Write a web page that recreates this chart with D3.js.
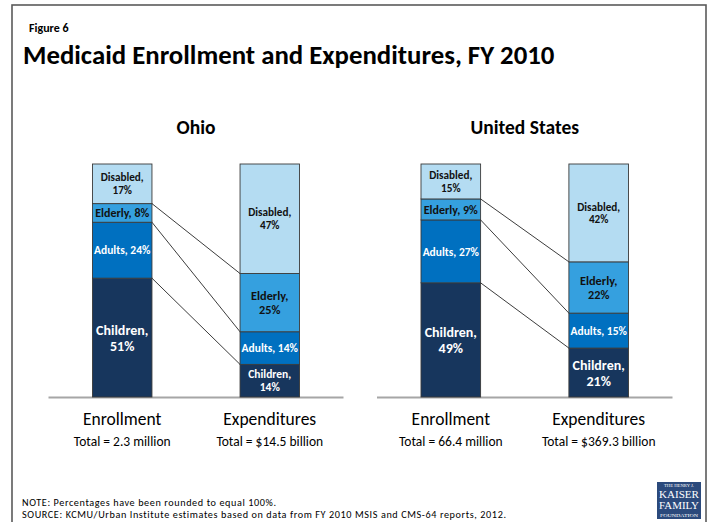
<!DOCTYPE html>
<html>
<head>
<meta charset="utf-8">
<script src="https://cdn.jsdelivr.net/npm/d3@7"></script>
<style>
  html, body { margin: 0; padding: 0; background: #fff; }
  svg { display: block; }
  text { font-family: Carlito, Lato, "Open Sans", sans-serif; }
</style>
</head>
<body>
<svg id="chart" width="714" height="522"></svg>
<script>
// Enrollment groups, listed from the bottom of each stack to the top
const groups = ["Children", "Adults", "Elderly", "Disabled"];
const measures = ["Enrollment", "Expenditures"];
const panelNames = ["Ohio", "United States"];

// Shares (%) by group, bottom to top
const ohioEnrollment = [51, 24, 8, 17];
const ohioExpenditures = [14, 14, 25, 47];
const usEnrollment = [49, 27, 9, 15];
const usExpenditures = [21, 15, 22, 42];

const ohioTotals = ["Total = 2.3 million", "Total = $14.5 billion"];
const usTotals = ["Total = 66.4 million", "Total = $369.3 billion"];

const panels = [
  { name: panelNames[0], values: [ohioEnrollment, ohioExpenditures], totals: ohioTotals, range: [92.5, 299.5] },
  { name: panelNames[1], values: [usEnrollment, usExpenditures], totals: usTotals, range: [421, 628.5] }
];

const colors = d3.scaleOrdinal()
  .domain(groups)
  .range(["#17365d", "#0070c0", "#35a0df", "#b4dcf2"]);
const darkText = new Set(["Elderly", "Disabled"]);

const svg = d3.select("#chart");
const y = d3.scaleLinear().domain([0, 100]).range([397, 164]);

// Frame
svg.append("rect")
  .attr("x", 12).attr("y", 5).attr("width", 694).attr("height", 540)
  .attr("fill", "none").attr("stroke", "#5a5a5a").attr("stroke-width", 1.6);

svg.append("text").attr("x", 29).attr("y", 32)
  .attr("font-size", 12).attr("font-weight", "bold").attr("fill", "#000")
  .text("Figure 6");
svg.append("text").attr("x", 23).attr("y", 64)
  .attr("font-size", 26.8).attr("font-weight", "bold").attr("fill", "#000")
  .text("Medicaid Enrollment and Expenditures, FY 2010");

// Shrink a multi-line label until its widest line fits
function fitText(textSel, maxW) {
  const node = textSel.node();
  const spans = textSel.selectAll("tspan").nodes();
  let fs = parseFloat(node.getAttribute("font-size"));
  const widest = () => d3.max(spans, s => s.getComputedTextLength());
  while (widest() > maxW && fs > 6) {
    fs -= 0.25;
    node.setAttribute("font-size", fs);
  }
  return fs;
}

panels.forEach(p => {
  const x = d3.scaleBand().domain(measures).range(p.range).paddingInner(0.597).paddingOuter(0);
  const bw = x.bandwidth();
  const g = svg.append("g");

  // Stack each bar: cumulative lower/upper bounds per group
  const stacks = p.values.map((vals, i) => {
    const ends = d3.cumsum(vals);
    return groups.map((grp, k) => ({
      group: grp, value: vals[k], y0: ends[k] - vals[k], y1: ends[k], measure: measures[i]
    }));
  });

  // Baseline
  g.append("line")
    .attr("x1", p.range[0] - 44).attr("x2", p.range[1] + 44)
    .attr("y1", y(0) + 0.5).attr("y2", y(0) + 0.5)
    .attr("stroke", "#a6a6a6").attr("stroke-width", 1.8);

  // Connectors between matching group boundaries
  const left = stacks[0], right = stacks[1];
  for (let k = 0; k < groups.length - 1; k++) {
    g.append("line")
      .attr("x1", x(measures[0]) + bw).attr("y1", y(left[k].y1))
      .attr("x2", x(measures[1])).attr("y2", y(right[k].y1))
      .attr("stroke", "#262626").attr("stroke-width", 0.9);
  }

  stacks.forEach(stack => {
    const bar = g.append("g");
    bar.selectAll("rect").data(stack).join("rect")
      .attr("x", d => x(d.measure))
      .attr("y", d => y(d.y1))
      .attr("width", bw)
      .attr("height", d => y(d.y0) - y(d.y1))
      .attr("fill", d => colors(d.group))
      .attr("stroke", "#3a3a3a").attr("stroke-width", 0.9);

    stack.forEach(d => {
      const h = y(d.y0) - y(d.y1);
      const cx = x(d.measure) + bw / 2;
      const cy = (y(d.y0) + y(d.y1)) / 2;
      const twoLines = d.group !== "Adults" && h > 25;
      let fs;
      if (d.group === "Children") fs = h > 45 ? 14 : 11.5;
      else if (d.group === "Elderly" && twoLines) fs = 12.3;
      else if (twoLines) fs = 11.2;
      else fs = 12;
      const lines = twoLines ? [d.group + ",", d.value + "%"] : [d.group + ", " + d.value + "%"];
      const t = bar.append("text")
        .attr("text-anchor", "middle")
        .attr("font-weight", "bold")
        .attr("font-size", fs)
        .attr("fill", darkText.has(d.group) ? "#111" : "#fff");
      lines.forEach(ln => t.append("tspan").attr("x", cx).text(ln));
      fs = fitText(t, bw - 3);
      const lh = fs * 1.15;
      t.selectAll("tspan")
        .attr("y", (ln, i) => cy + (i - (lines.length - 1) / 2) * lh + fs * 0.36);
    });
  });

  // Panel title
  g.append("text")
    .attr("x", (p.range[0] + p.range[1]) / 2).attr("y", 134)
    .attr("text-anchor", "middle").attr("font-size", 19.5).attr("font-weight", "bold")
    .attr("fill", "#000").text(p.name);

  // Category and total labels
  measures.forEach((m, i) => {
    const cx = x(m) + bw / 2;
    g.append("text").attr("x", cx).attr("y", 425)
      .attr("text-anchor", "middle").attr("font-size", 17.5).attr("fill", "#000").text(m);
    g.append("text").attr("x", cx).attr("y", 446)
      .attr("text-anchor", "middle").attr("font-size", 13.5).attr("fill", "#000").text(p.totals[i]);
  });
});

// Notes
svg.append("text").attr("x", 22).attr("y", 505.5)
  .attr("font-size", 10.2).attr("letter-spacing", 0.6).attr("fill", "#000")
  .text("NOTE: Percentages have been rounded to equal 100%.");
svg.append("text").attr("x", 22).attr("y", 518)
  .attr("font-size", 10.2).attr("letter-spacing", 0.6).attr("fill", "#000")
  .text("SOURCE:  KCMU/Urban Institute estimates based on data from FY 2010 MSIS and CMS-64 reports, 2012.");

// Foundation mark
const logo = svg.append("g");
logo.append("rect").attr("x", 657).attr("y", 482).attr("width", 44).attr("height", 37).attr("fill", "#2b4a7c");
const serif = "'Liberation Serif', 'DejaVu Serif', serif";
[["THE HENRY J.", 487, 4, 30], ["KAISER", 497.5, 9.5, 40], ["FAMILY", 508.5, 9.5, 40], ["FOUNDATION", 516.5, 4, 38]]
  .forEach(([s, yy, fs, w]) => {
    logo.append("text").attr("x", 679).attr("y", yy)
      .attr("text-anchor", "middle").attr("font-size", fs).attr("fill", "#fff")
      .style("font-family", serif)
      .attr("textLength", w).attr("lengthAdjust", "spacingAndGlyphs")
      .text(s);
  });
</script>
</body>
</html>
